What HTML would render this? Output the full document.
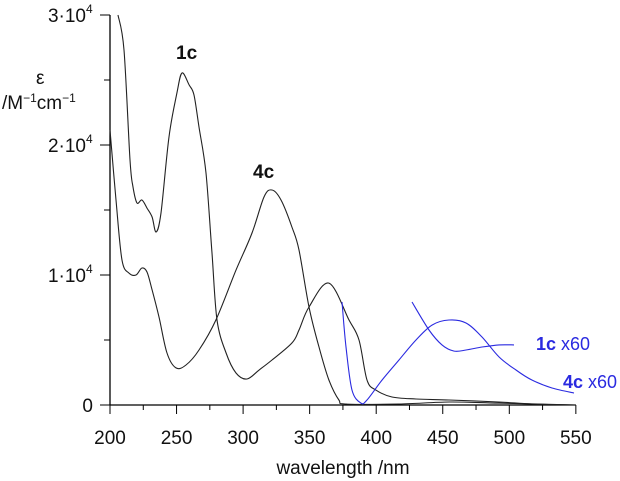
<!DOCTYPE html>
<html><head><meta charset="utf-8"><style>
html,body{margin:0;padding:0;background:#fff;}
svg{display:block;font-family:"Liberation Sans",sans-serif;}
</style></head><body>
<svg id="chart" width="620" height="481" viewBox="0 0 620 481" xmlns="http://www.w3.org/2000/svg"></svg>
<script>
const xTicks=[200,250,300,350,400,450,500,550];
const yTickVals=[0,10000,20000,30000];
const yTickLabels=["0","1·10","2·10","3·10"];
const wl1c=[206,210.5,215,217.3,220.3,224,227.8,231.6,234.6,238.3,244.3,250.3,254.1,259.4,263.1,266.9,272.1,276.6,280.4,287.2,294.7,302.9,312,321.7,336.7,342,349.5,364.5,379.6,387.1,393.1,399.8,411.9,429.9,454.7,492.3,517,550];
const eps1c=[30000,27310,18850,16770,15540,15770,15150,14460,13310,14770,20620,24000,25540,24620,23850,21380,17850,11690,6540,4000,2460,2000,2690,3460,4770,5770,7540,9380,6540,5000,1920,1150,615,460,385,230,77,0];
const wl4c=[200,204.5,209,214.3,219.5,224,227.8,231.6,236.8,242.8,249.6,257.1,266.9,279.6,294.7,306.7,315.7,321.7,328.5,336.7,342,349.5,357,364.5,372,377.3,417,455,492,550];
const eps4c=[21150,15770,11150,10150,10000,10540,10230,8850,6770,4000,2850,3080,4230,6540,10380,13230,16000,16540,15770,13690,11920,7540,4460,1920,385,77,77,230,150,0];
const wl4cx60=[374.3,377.3,381.8,388.6,393.1,404.4,417.1,429.9,441.9,454.7,467.5,479.5,492.3,505,517,532.1,548.6];
const eps4cx60=[7920,4460,1150,150,385,1920,3460,5000,6150,6540,6310,5230,3690,2690,1920,1310,920];
const wl1cx60=[426.9,439.7,449.4,458.5,467.5,479.5,492.3,503.5];
const eps1cx60=[7920,5770,4620,4150,4230,4460,4620,4620];

const NS="http://www.w3.org/2000/svg";
const svg=document.getElementById('chart');
const X=w=>110+(w-200)*1.331;
const Y=e=>405-e/10000*130;
function mk(tag,attrs,parent){const el=document.createElementNS(NS,tag);for(const k in attrs)el.setAttribute(k,attrs[k]);(parent||svg).appendChild(el);return el;}

let ax=mk('line',{x1:110,y1:15,x2:110,y2:405,stroke:'#000','stroke-width':1.3});


let bx=mk('line',{x1:110,y1:405,x2:X(550),y2:405,stroke:'#000','stroke-width':1.3});



for(let w=200;w<=550;w+=25){
  const major=(w%50===0);
  const t=mk('line',{x1:X(w),x2:X(w),y1:405,y2:major?414:410,stroke:'#000','stroke-width':1});
  
  
}
xTicks.forEach(w=>{
  const t=mk('text',{x:X(w),y:444,'text-anchor':'middle','font-size':19,fill:'#111'});
  t.textContent=w;
  
  
});
for(let e=0;e<=30000;e+=5000){
  const major=(e%10000===0);
  const t=mk('line',{x1:major?100:104,x2:110,y1:Y(e),y2:Y(e),stroke:'#000','stroke-width':1});
  
  
}
yTickVals.forEach((e,i)=>{
  const t=mk('text',{x:e===0?93:86,y:Y(e)+7,'text-anchor':'end','font-size':19,fill:'#111'});
  t.textContent=yTickLabels[i];
  
  
  if(e!==0){
    const s=mk('text',{x:86,y:Y(e)-2,'font-size':12,fill:'#111'});
    s.textContent='4';
    
    
  }
});

function line(wl,ep,color,name){
  const P=wl.map((w,i)=>[X(w),Y(ep[i])]);
  let d='M'+P[0][0].toFixed(1)+','+P[0][1].toFixed(1);
  for(let i=0;i<P.length-1;i++){
    const p0=P[Math.max(0,i-1)],p1=P[i],p2=P[i+1],p3=P[Math.min(P.length-1,i+2)];
    const c1=[p1[0]+(p2[0]-p0[0])/6,p1[1]+(p2[1]-p0[1])/6];
    const c2=[p2[0]-(p3[0]-p1[0])/6,p2[1]-(p3[1]-p1[1])/6];
    d+=' C'+c1[0].toFixed(1)+','+c1[1].toFixed(1)+' '+c2[0].toFixed(1)+','+c2[1].toFixed(1)+' '+p2[0].toFixed(1)+','+p2[1].toFixed(1);
  }
  const p=mk('path',{d:d,fill:'none',stroke:color,'stroke-width':1.1,'stroke-linejoin':'round'});
  
  
}
line(wl1c,eps1c,'#222','series-1c');
line(wl4c,eps4c,'#222','series-4c');
line(wl4cx60,eps4cx60,'#2a2ae0','series-4c-x60');
line(wl1cx60,eps1cx60,'#2a2ae0','series-1c-x60');

function txt(x,y,html,attrs,name){
  const t=mk('text',Object.assign({x:x,y:y},attrs));
  t.innerHTML=html;
  
  
}
txt(176,59,'1c',{'font-size':19,'font-weight':'bold',fill:'#111'},'label-1c');
txt(253,178,'4c',{'font-size':19,'font-weight':'bold',fill:'#111'},'label-4c');
txt(536,350,'<tspan font-weight="bold">1c</tspan> x60',{'font-size':18,fill:'#2a2ae0'},'label-1c-x60');
txt(563,388,'<tspan font-weight="bold">4c</tspan> x60',{'font-size':18,fill:'#2a2ae0'},'label-4c-x60');
txt(36,84,'ε',{'font-size':19,fill:'#111'},'y-axis-symbol');
txt(2,109,'/M<tspan font-size="12" dy="-7">−1</tspan><tspan dy="7">cm</tspan><tspan font-size="12" dy="-7">−1</tspan>',{'font-size':19,fill:'#111'},'y-axis-title');
txt(343,474,'wavelength /nm',{'font-size':19,'text-anchor':'middle',fill:'#111'},'x-axis-title');
</script>
</body></html>
